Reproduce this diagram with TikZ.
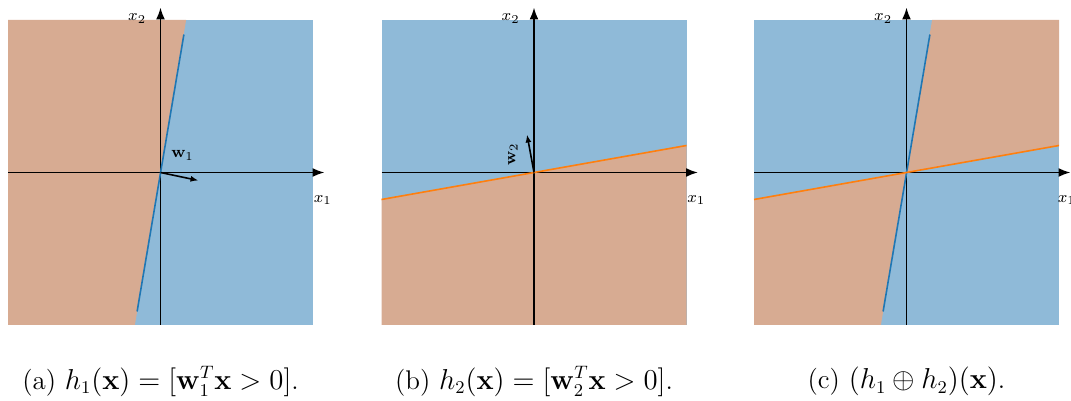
\documentclass[tikz,border=0pt]{standalone}
\usepackage{amsmath}
\usepackage{amssymb}
\usetikzlibrary{arrows.meta, positioning}

\definecolor{regblue}{RGB}{143,186,216}
\definecolor{regsalmon}{RGB}{215,171,146}
\definecolor{lineblue}{RGB}{31,119,180}
\definecolor{lineorange}{RGB}{255,127,14}

\begin{document}
\begin{tikzpicture}[
    x=0.5pt, y=0.5pt,
    every node/.style={font=\footnotesize, inner sep=1pt},
    axis/.style={-{Latex[length=6pt,width=4.5pt]}, line width=0.9pt},
    wvec/.style={-{Latex[length=4pt,width=3pt]}, line width=0.8pt},
    bound1/.style={lineblue, line width=0.8pt},
    bound2/.style={lineorange, line width=0.8pt},
    capt/.style={font=\fontsize{13.5}{16}\selectfont}
]
\useasboundingbox (0,0) rectangle (1071,401);

% (a) premier classifieur
\begin{scope}[shift={(160.5,228.5)}]
\fill[regblue] (-152.5,-152.5) rectangle (152.5,152.5);
\fill[regsalmon] (-152.5,-152.5) -- (-25.6,-152.5) -- (25.6,152.5) -- (-152.5,152.5) -- cycle;
\coordinate (a-o) at (0,0);
\coordinate (a-l) at (-152.5,0);
\coordinate (a-r) at (164,0);
\coordinate (a-b) at (0,-152.5);
\coordinate (a-t) at (0,165);
\coordinate (a-p) at (-23.4,-139);
\coordinate (a-q) at (23.4,138);
\coordinate (a-w) at (38,-8);
\draw[axis] (a-l) -- (a-r);
\draw[axis] (a-b) -- (a-t);
\draw[bound1] (a-p) -- (a-q);
\draw[wvec] (a-o) -- (a-w);
\node (a-wl) at (22,17) {$\mathbf{w}_1$};
\node[anchor=west] (a-x1) at (151,-27.5) {$x_1$};
\node[anchor=east] (a-x2) at (-12,154) {$x_2$};
\node[capt] (a-cap) at (0,-209) {(a) $h_1(\mathbf{x}) = [\mathbf{w}_1^T\mathbf{x} > 0]$.};
\end{scope}

% (b) second classifieur
\begin{scope}[shift={(534,228.5)}]
\fill[regblue] (-152.5,-152.5) rectangle (152.5,152.5);
\fill[regsalmon] (-152.5,-152.5) -- (152.5,-152.5) -- (152.5,27) -- (-152.5,-27) -- cycle;
\coordinate (b-o) at (0,0);
\coordinate (b-l) at (-152.5,0);
\coordinate (b-r) at (164,0);
\coordinate (b-b) at (0,-152.5);
\coordinate (b-t) at (0,165);
\coordinate (b-p) at (-152.5,-27);
\coordinate (b-q) at (152.5,27);
\coordinate (b-w) at (-7,38);
\draw[axis] (b-l) -- (b-r);
\draw[axis] (b-b) -- (b-t);
\draw[bound2] (b-p) -- (b-q);
\draw[wvec] (b-o) -- (b-w);
\node[rotate=90] (b-wl) at (-21,18) {$\mathbf{w}_2$};
\node[anchor=west] (b-x1) at (151,-27.5) {$x_1$};
\node[anchor=east] (b-x2) at (-12,154) {$x_2$};
\node[capt] (b-cap) at (0,-209) {(b) $h_2(\mathbf{x}) = [\mathbf{w}_2^T\mathbf{x} > 0]$.};
\end{scope}

% (c) combinaison XOR
\begin{scope}[shift={(906.5,228.5)}]
\fill[regblue] (-152.5,-152.5) rectangle (152.5,152.5);
\fill[regsalmon] (0,0) -- (25.6,152.5) -- (152.5,152.5) -- (152.5,27) -- cycle;
\fill[regsalmon] (0,0) -- (-25.6,-152.5) -- (-152.5,-152.5) -- (-152.5,-27) -- cycle;
\coordinate (c-o) at (0,0);
\coordinate (c-l) at (-152.5,0);
\coordinate (c-r) at (164,0);
\coordinate (c-b) at (0,-152.5);
\coordinate (c-t) at (0,165);
\coordinate (c-p) at (-23.4,-139);
\coordinate (c-q) at (23.4,138);
\coordinate (c-u) at (-152.5,-27);
\coordinate (c-v) at (152.5,27);
\draw[axis] (c-l) -- (c-r);
\draw[axis] (c-b) -- (c-t);
\draw[bound1] (c-p) -- (c-q);
\draw[bound2] (c-u) -- (c-v);
\node[anchor=west] (c-x1) at (149,-27.5) {$x_1$};
\node[anchor=east] (c-x2) at (-12,154) {$x_2$};
\node[capt] (c-cap) at (0,-209) {(c) $(h_1 \oplus h_2)(\mathbf{x})$.};
\end{scope}

\end{tikzpicture}
\end{document}
